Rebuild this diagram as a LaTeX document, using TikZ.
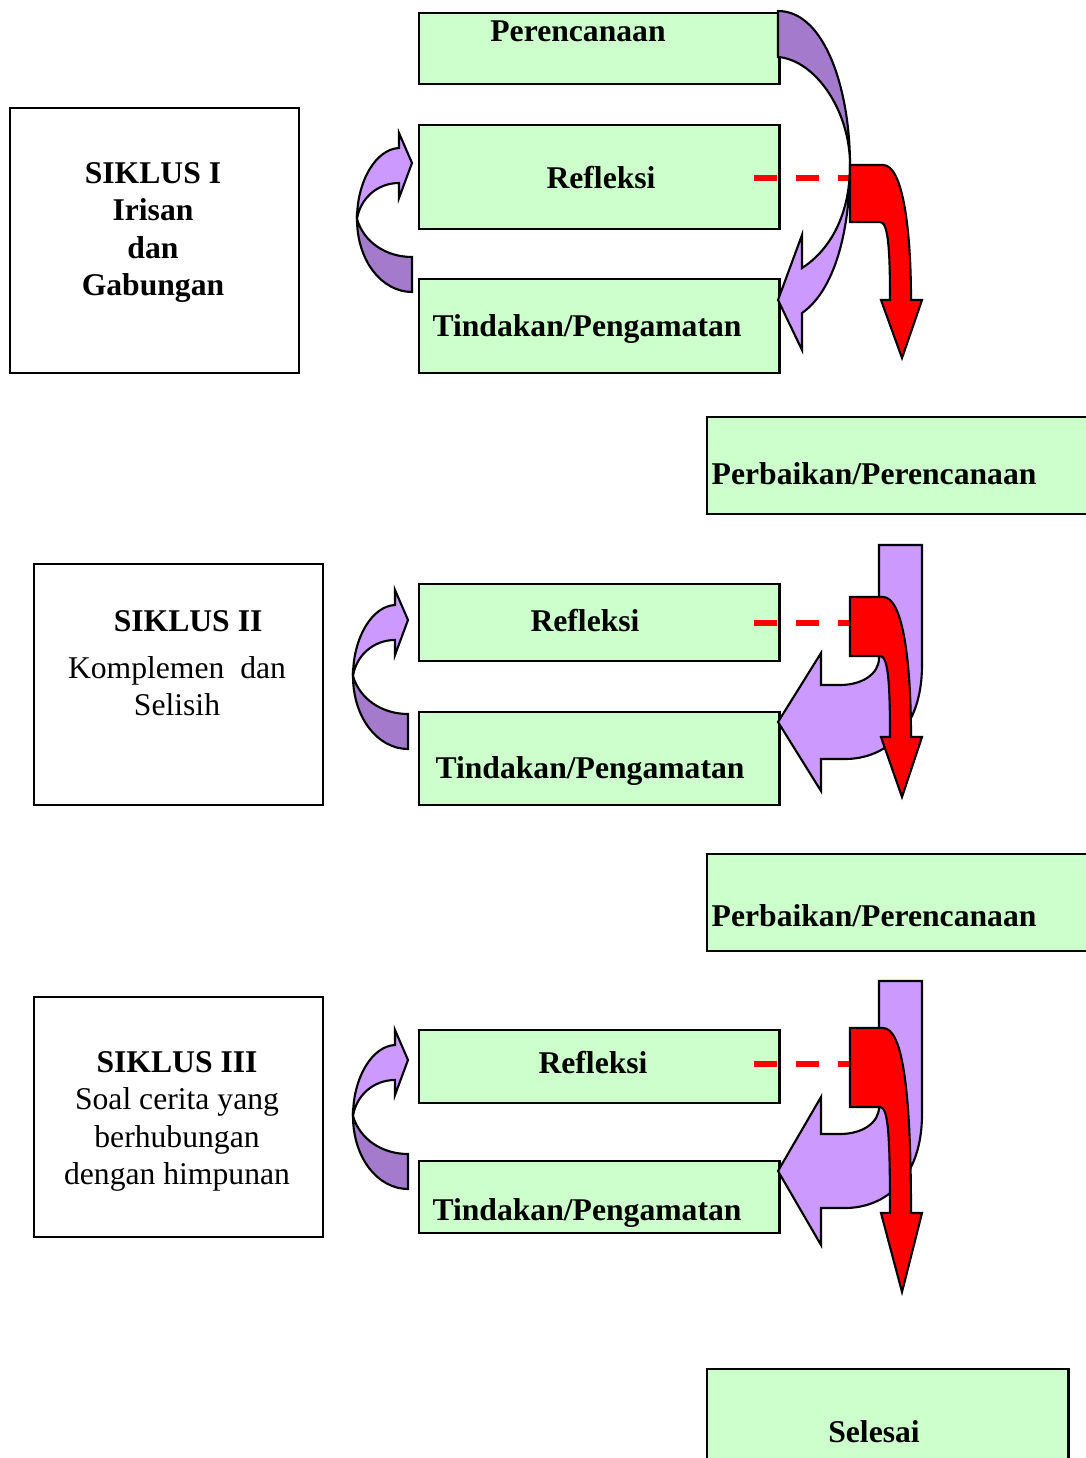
\documentclass[tikz,border=0pt]{standalone}
\usepackage{fontspec}
\setmainfont{Liberation Serif}

\definecolor{hijau}{HTML}{CCFFCC}
\definecolor{ungu}{HTML}{CC99FF}
\definecolor{ungutua}{HTML}{A37ACC}

% red bent arrow: top, bottom, head line, tip
\newcommand{\panahmerah}[4]{%
  \filldraw[merah] (850,#1) -- (883,#1) .. controls (903,#1) and (911,{#1+65}) .. (911,#3)
    -- (922,#3) -- (902,#4) -- (881,#3) -- (890,#3)
    .. controls (890,{#2+25}) and (888,#2) .. (880,#2) -- (850,#2) -- cycle;}

% lilac U-turn arrow: top, tip, half width of head
\newcommand{\panahungu}[3]{%
  \filldraw[ungumuda] (879,#1) -- (922,#1) -- (922,{#2-57})
    .. controls (922,{#2+8}) and (885,{#2+37}) .. (845,{#2+37}) -- (821,{#2+37})
    -- (821,{#2+#3}) -- (778,#2) -- (821,{#2-#3}) -- (821,{#2-37}) -- (840,{#2-37})
    .. controls (862,{#2-37}) and (879,{#2-48}) .. (879,{#2-64}) -- cycle;}

\begin{document}
\begin{tikzpicture}[x=0.01cm, y=-0.01cm]
	\tikzstyle{every node}=[inner sep=0pt]
	\tikzstyle{kotak}=[draw, fill=hijau, line width=0.65pt, anchor=north west]
	\tikzstyle{siklus}=[draw, fill=white, line width=0.65pt, anchor=north west]
	\tikzstyle{tulisan}=[font=\fontsize{9pt}{10.6pt}\selectfont\bfseries, anchor=base]
	\tikzstyle{isi}=[font=\fontsize{9pt}{10.6pt}\selectfont\bfseries, align=center, anchor=north]
	\tikzstyle{putus}=[draw=red, line width=1.7pt, dash pattern=on 6.6pt off 5.3pt]
	\tikzstyle{merah}=[fill=red, draw=black, line width=0.6pt]
	\tikzstyle{ungumuda}=[fill=ungu, draw=black, line width=0.6pt]
	\tikzstyle{ungugelap}=[fill=ungutua, draw=black, line width=0.6pt]
	\tikzset{putar/.pic={
		\filldraw[ungumuda] (-55,56) .. controls (-55,18) and (-36,-14) .. (-13,-15)
			-- (-13,-30) -- (0,0) -- (-13,35) -- (-13,20)
			.. controls (-35,20) and (-52,36) .. (-55,56) -- cycle;
		\filldraw[ungugelap] (-55,56) .. controls (-55,98) and (-30,129) .. (0,129)
			-- (0,94) .. controls (-25,94) and (-48,80) .. (-55,56) -- cycle;
	}}
	\clip (0,0) rectangle (1086,1458);

	% siklus I
	\node[kotak, minimum width=3.6cm, minimum height=0.71cm] (rencana) at (418,12) {};
	\node[kotak, minimum width=3.6cm, minimum height=1.04cm] (refleksiA) at (418,124) {};
	\node[kotak, minimum width=3.6cm, minimum height=0.94cm] (tindakanA) at (418,278) {};
	\node[siklus, minimum width=2.89cm, minimum height=2.65cm] (siklusA) at (9,107) {};
	\node[kotak, minimum width=4cm, minimum height=0.97cm] (perbaikanA) at (706,416) {};
	\node[tulisan] (rencanaT) at (578,42) {Perencanaan};
	\node[tulisan] (refleksiAT) at (601,189) {Refleksi};
	\node[tulisan] (tindakanAT) at (587,337) {Tindakan/Pengamatan};
	\node[isi] (siklusAT) at (153,162) {SIKLUS I\\ Irisan\\ dan\\ Gabungan};
	\node[tulisan, anchor=base west] (perbaikanAT) at (711,484) {Perbaikan/Perencanaan};

	% siklus II
	\node[kotak, minimum width=3.6cm, minimum height=0.77cm] (refleksiB) at (418,583) {};
	\node[kotak, minimum width=3.6cm, minimum height=0.93cm] (tindakanB) at (418,711) {};
	\node[siklus, minimum width=2.89cm, minimum height=2.41cm] (siklusB) at (33,563) {};
	\node[kotak, minimum width=4cm, minimum height=0.97cm] (perbaikanB) at (706,853) {};
	\node[tulisan] (refleksiBT) at (585,631) {Refleksi};
	\node[tulisan] (tindakanBT) at (590,778) {Tindakan/Pengamatan};
	\node[isi] (siklusBT) at (177,610) {\hspace*{0.7em}SIKLUS II\\[2.6pt] \mdseries Komplemen\ \ dan\\ \mdseries Selisih};
	\node[tulisan, anchor=base west] (perbaikanBT) at (711,926) {Perbaikan/Perencanaan};

	% siklus III
	\node[kotak, minimum width=3.6cm, minimum height=0.73cm] (refleksiC) at (418,1029) {};
	\node[kotak, minimum width=3.6cm, minimum height=0.72cm] (tindakanC) at (418,1160) {};
	\node[siklus, minimum width=2.89cm, minimum height=2.4cm] (siklusC) at (33,996) {};
	\node[kotak, minimum width=3.61cm, minimum height=1.2cm] (selesai) at (706,1368) {};
	\node[tulisan] (refleksiCT) at (593,1073) {Refleksi};
	\node[tulisan] (tindakanCT) at (587,1220) {Tindakan/Pengamatan};
	\node[isi] (siklusCT) at (177,1051) {SIKLUS III\\ \mdseries Soal cerita yang\\ \mdseries berhubungan\\ \mdseries dengan himpunan};
	\node[tulisan] (selesaiT) at (874,1442) {Selesai};

	% garis putus ke panah merah
	\coordinate (pA) at (754,178);
	\coordinate (qA) at (850,178);
	\coordinate (pB) at (754,623);
	\coordinate (qB) at (850,623);
	\coordinate (pC) at (754,1064);
	\coordinate (qC) at (850,1064);
	\draw[putus] (pA) -- (qA);
	\draw[putus] (pB) -- (qB);
	\draw[putus] (pC) -- (qC);

	% panah balik di kiri
	\pic at (412,163) {putar};
	\pic at (408,620) {putar};
	\pic at (408,1060) {putar};

	% panah lengkung perencanaan -> tindakan
	\filldraw[ungugelap] (778,11) .. controls (825,11) and (850,90) .. (850,165)
		.. controls (850,110) and (815,60) .. (778,57) -- cycle;
	\filldraw[ungumuda] (850,165) .. controls (850,215) and (830,250) .. (802,268)
		-- (802,235) -- (778,300) -- (802,350) -- (802,313)
		.. controls (835,290) and (850,230) .. (850,165) -- cycle;

	\panahungu{545}{722}{69}
	\panahungu{981}{1171}{74}

	\panahmerah{165}{222}{300}{358}
	\panahmerah{597}{656}{737}{797}
	\panahmerah{1028}{1107}{1213}{1292}
\end{tikzpicture}
\end{document}
